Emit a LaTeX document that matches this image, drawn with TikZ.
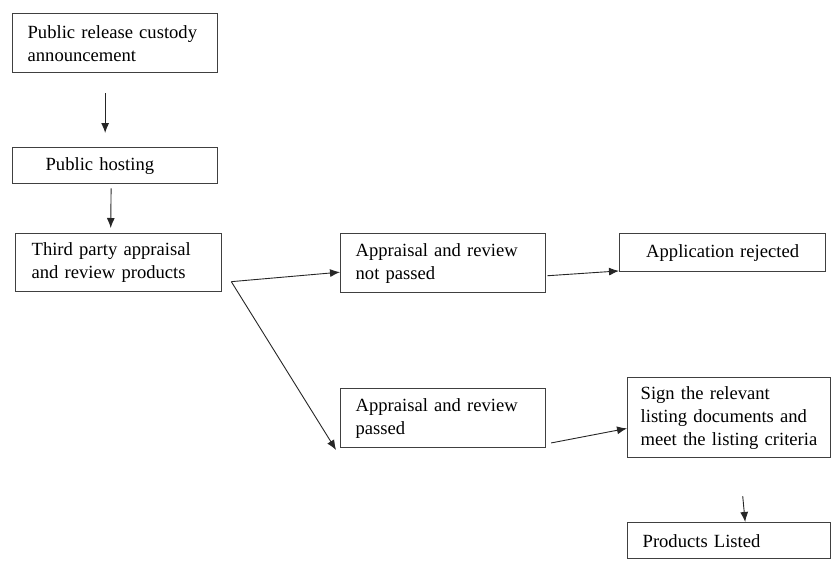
\documentclass[tikz,border=0pt]{standalone}
\usepackage{fontspec}
\setmainfont{Liberation Serif}
\usepackage{tikz}
\usetikzlibrary{arrows.meta,positioning,calc}
\tikzset{
  basic/.style  = {draw=black!75, line width=1.3pt, rectangle, anchor=north west,
                   inner sep=0pt, align=left,
                   font=\fontsize{18.6}{23}\selectfont},
  stage/.style  = {basic, minimum width=205pt, minimum height=59pt, text width=175pt},
  short/.style  = {basic, minimum width=205pt, minimum height=36pt},
  flow/.style   = {-{Latex[length=10pt,width=8pt]}, draw=black!85, line width=0.9pt}
}

\begin{document}
\begin{tikzpicture}[x=1pt,y=-1pt]
\useasboundingbox (0,0) rectangle (832,560);

% left column, top down
\node[stage] (b1) at (12,13) {Public release custody\\announcement};
\node[short, text width=139pt] (b2) at (12,147) {Public hosting};
\node[stage, minimum width=206pt, minimum height=58pt, text width=174pt] (b3) at (15,233)
  {Third party appraisal\\and review products};

% the two outcomes of the appraisal
\node[stage] (b4) at (340,233) {Appraisal and review\\not passed};
\node[stage] (b5) at (340,388) {Appraisal and review\\passed};

% right column
\node[short, minimum width=206pt, minimum height=38pt, align=center, text width=176pt]
  (b6) at (619,233) {Application rejected};
\node[stage, minimum width=203pt, minimum height=80pt, text width=177pt] (b7) at (627,377)
  {Sign the relevant\\listing documents and\\meet the listing criteria};
\node[short, minimum width=203pt, text width=173pt] (b8) at (627,522) {Products Listed};

% where the appraisal splits
\coordinate (split) at ($(b3.east)+(9,19)$);

% connectors
\draw[flow, shorten <=20pt, shorten >=14pt] ([xshift=-10pt]b1.south) -- ([xshift=-10pt]b2.north);
\draw[flow, shorten <=4pt, shorten >=5pt] ([xshift=-4pt]b2.south) -- ([xshift=-8pt]b3.north);
\draw[flow] (split) -- (b4.185);
\draw[flow, shorten >=-2pt] (split) -- ([xshift=-5pt]b5.south west);
\draw[flow, shorten <=1pt] (b4.-7) -- (b6.190);
\draw[flow, shorten <=5pt] (b5.-14) -- (b7.186);
\draw[flow, shorten <=38pt] ([xshift=10pt]b7.south) -- ([xshift=16pt]b8.north);

\end{tikzpicture}
\end{document}
